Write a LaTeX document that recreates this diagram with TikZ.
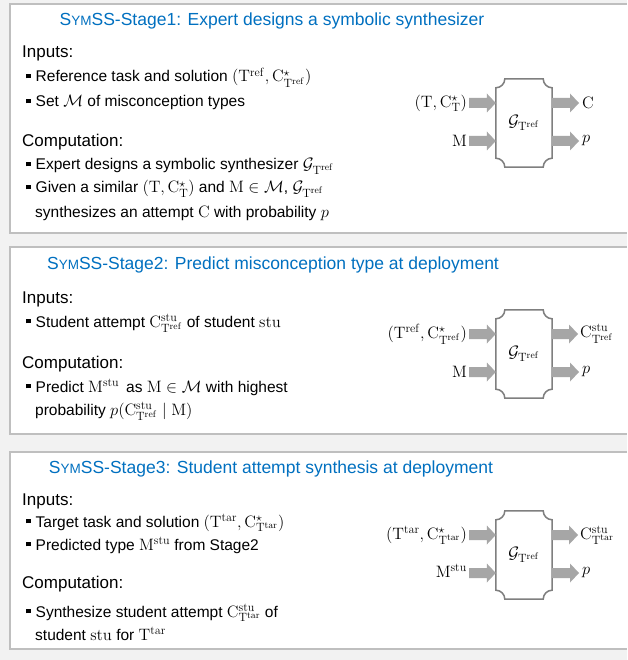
\RequirePackage{fix-cm}
\documentclass[tikz,border=0pt]{standalone}
\usepackage[no-math]{fontspec}
\setmainfont{Liberation Sans}
\usetikzlibrary{calc}
\DeclareMathSizes{15.5}{16.5}{12}{9.5}
\definecolor{bgc}{RGB}{242,242,242}
\definecolor{panelc}{RGB}{191,191,191}
\definecolor{titlec}{RGB}{0,112,192}
\definecolor{boxc}{RGB}{127,127,127}
\definecolor{arrc}{RGB}{166,166,166}
\newcommand{\sqb}{\rule[3.6pt]{4.5pt}{4.5pt}\hspace{5pt}}
\newcommand{\Tr}{\mathrm{T}^{\mathrm{ref}}}
\newcommand{\Tt}{\mathrm{T}^{\mathrm{tar}}}
\newcommand{\Gr}{\mathcal{G}_{\mathrm{T}^{\mathrm{ref}}}}
\newcommand{\smc}[1]{{\fontsize{13.5}{16}\selectfont #1}}
\newcommand{\blockarr}[3]{\fill[arrc] let \p1=(#1), \p2=(#2), \p3=(#3) in
  (\x1,\y3+5pt) -- (\x2-9pt,\y3+5pt) -- (\x2-9pt,\y3+9.5pt) -- (\x2,\y3)
  -- (\x2-9pt,\y3-9.5pt) -- (\x2-9pt,\y3-5pt) -- (\x1,\y3-5pt) -- cycle;}
\newcommand{\synthoutline}[1]{\draw[boxline] let \p1=(#1.north west), \p2=(#1.south east) in
  (\x1+9pt,\y1) -- (\x2-9pt,\y1) .. controls (\x2-9pt,\y1-5pt) and (\x2-5pt,\y1-9pt) .. (\x2,\y1-9pt)
  -- (\x2,\y2+9pt) .. controls (\x2-5pt,\y2+9pt) and (\x2-9pt,\y2+5pt) .. (\x2-9pt,\y2)
  -- (\x1+9pt,\y2) .. controls (\x1+9pt,\y2+5pt) and (\x1+5pt,\y2+9pt) .. (\x1,\y2+9pt)
  -- (\x1,\y1-9pt) .. controls (\x1+5pt,\y1-9pt) and (\x1+9pt,\y1-5pt) .. cycle;}
\tikzset{
  panelfill/.style={fill=white},
  panelline/.style={draw=panelc, line width=2pt},
  titlet/.style={anchor=base, inner sep=0pt, text=titlec, font=\fontsize{17.5}{20}\selectfont},
  head/.style={anchor=base west, inner sep=0pt, font=\fontsize{17}{20}\selectfont},
  txt/.style={anchor=base west, inner sep=0pt, font=\fontsize{15.5}{18}\selectfont},
  inlab/.style={anchor=east, inner sep=0pt, font=\fontsize{15.5}{18}\selectfont},
  outlab/.style={anchor=west, inner sep=0pt, font=\fontsize{15.5}{18}\selectfont},
  gbox/.style={minimum width=56pt, minimum height=88pt, inner sep=0pt, font=\fontsize{15.5}{18}\selectfont},
  boxline/.style={draw=boxc, line width=1.5pt, fill=white}
}
\begin{document}
\begin{tikzpicture}[x=1pt,y=-1pt]
\useasboundingbox (0,0) rectangle (627,660);
\fill[bgc] (0,0) rectangle (627,660);
% panels
\foreach \ya/\yb in {4.5/233, 247/434, 452/649}{
  \fill[panelfill] (10,\ya) rectangle (627,\yb);
  \draw[panelline] (627,\ya) -- (10,\ya) -- (10,\yb) -- (627,\yb);
}
% ---------- Panel 1 ----------
\node[titlet] (t1) at (272,26) {S\smc{YM}SS-Stage1: Expert designs a symbolic synthesizer};
\node[head] (h11) at (22,58) {Inputs:};
\node[txt] (b11) at (26,82) {\sqb Reference task and solution $\bigl(\Tr, \mathrm{C}^{\star}_{\Tr}\bigr)$};
\node[txt] (b12) at (26,107) {\sqb Set $\mathcal{M}$ of misconception types};
\node[head] (h12) at (22,147) {Computation:};
\node[txt] (b13) at (26,170) {\sqb Expert designs a symbolic synthesizer $\Gr$};
\node[txt] (b14) at (26,193) {\sqb Given a similar $(\mathrm{T}, \mathrm{C}^{\star}_{\mathrm{T}})$ and $\mathrm{M}\in\mathcal{M}$, $\Gr$};
\node[txt] (b15) at (35,217) {synthesizes an attempt $\mathrm{C}$ with probability $p$};
\node[gbox] (g1) at (524,123) {};
\synthoutline{g1}
\node[gbox] at (g1) {$\Gr$};
\node[inlab] (l11) at (467,103) {$(\mathrm{T}, \mathrm{C}^{\star}_{\mathrm{T}})$};
\node[inlab] (l12) at (467,141) {$\mathrm{M}$};
\node[outlab] (o11) at (582,103) {$\mathrm{C}$};
\node[outlab] (o12) at (582,141) {$p$};
\blockarr{[xshift=2pt]l11.east}{g1.west}{l11.east}
\blockarr{[xshift=2pt]l12.east}{g1.west}{l12.east}
\blockarr{g1.east}{[xshift=-3pt]o11.west}{o11.west}
\blockarr{g1.east}{[xshift=-3pt]o12.west}{o12.west}
% ---------- Panel 2 ----------
\node[titlet] (t2) at (273,269) {S\smc{YM}SS-Stage2: Predict misconception type at deployment};
\node[head] (h21) at (22,303) {Inputs:};
\node[txt] (b21) at (26,327) {\sqb Student attempt $\mathrm{C}^{\mathrm{stu}}_{\Tr}$ of student $\mathrm{stu}$};
\node[head] (h22) at (22,368) {Computation:};
\node[txt] (b22) at (26,392) {\sqb Predict $\mathrm{M}^{\mathrm{stu}}$\, as $\mathrm{M}\in\mathcal{M}$ with highest};
\node[txt] (b23) at (35,415) {probability $p\bigl(\mathrm{C}^{\mathrm{stu}}_{\Tr}\mid \mathrm{M}\bigr)$};
\node[gbox] (g2) at (524,354) {};
\synthoutline{g2}
\node[gbox] at (g2) {$\Gr$};
\node[inlab] (l21) at (467,334) {$\bigl(\Tr, \mathrm{C}^{\star}_{\Tr}\bigr)$};
\node[inlab] (l22) at (467,372) {$\mathrm{M}$};
\node[outlab] (o21) at (580,334) {$\mathrm{C}^{\mathrm{stu}}_{\Tr}$};
\node[outlab] (o22) at (582,372) {$p$};
\blockarr{[xshift=2pt]l21.east}{g2.west}{l21.east}
\blockarr{[xshift=2pt]l22.east}{g2.west}{l22.east}
\blockarr{g2.east}{[xshift=-2pt]o21.west}{o21.west}
\blockarr{g2.east}{[xshift=-3pt]o22.west}{o22.west}
% ---------- Panel 3 ----------
\node[titlet] (t3) at (271,473) {S\smc{YM}SS-Stage3: Student attempt synthesis at deployment};
\node[head] (h31) at (22,505) {Inputs:};
\node[txt] (b31) at (26,527) {\sqb Target task and solution $(\Tt, \mathrm{C}^{\star}_{\Tt})$};
\node[txt] (b32) at (26,550) {\sqb Predicted type $\mathrm{M}^{\mathrm{stu}}$ from Stage2};
\node[head] (h32) at (22,588) {Computation:};
\node[txt] (b33) at (26,617) {\sqb Synthesize student attempt $\mathrm{C}^{\mathrm{stu}}_{\Tt}$ of};
\node[txt] (b34) at (35,640) {student $\mathrm{stu}$ for $\Tt$};
\node[gbox] (g3) at (524,555) {};
\synthoutline{g3}
\node[gbox] at (g3) {$\Gr$};
\node[inlab] (l31) at (467,535) {$\bigl(\Tt, \mathrm{C}^{\star}_{\Tt}\bigr)$};
\node[inlab] (l32) at (467,571) {$\mathrm{M}^{\mathrm{stu}}$};
\node[outlab] (o31) at (580,535) {$\mathrm{C}^{\mathrm{stu}}_{\Tt}$};
\node[outlab] (o32) at (582,573) {$p$};
\blockarr{[xshift=2pt]l31.east}{g3.west}{l31.east}
\blockarr{[xshift=2pt]l32.east}{g3.west}{[yshift=-2pt]l32.east}
\blockarr{g3.east}{[xshift=-2pt]o31.west}{o31.west}
\blockarr{g3.east}{[xshift=-3pt]o32.west}{o32.west}
\end{tikzpicture}
\end{document}
